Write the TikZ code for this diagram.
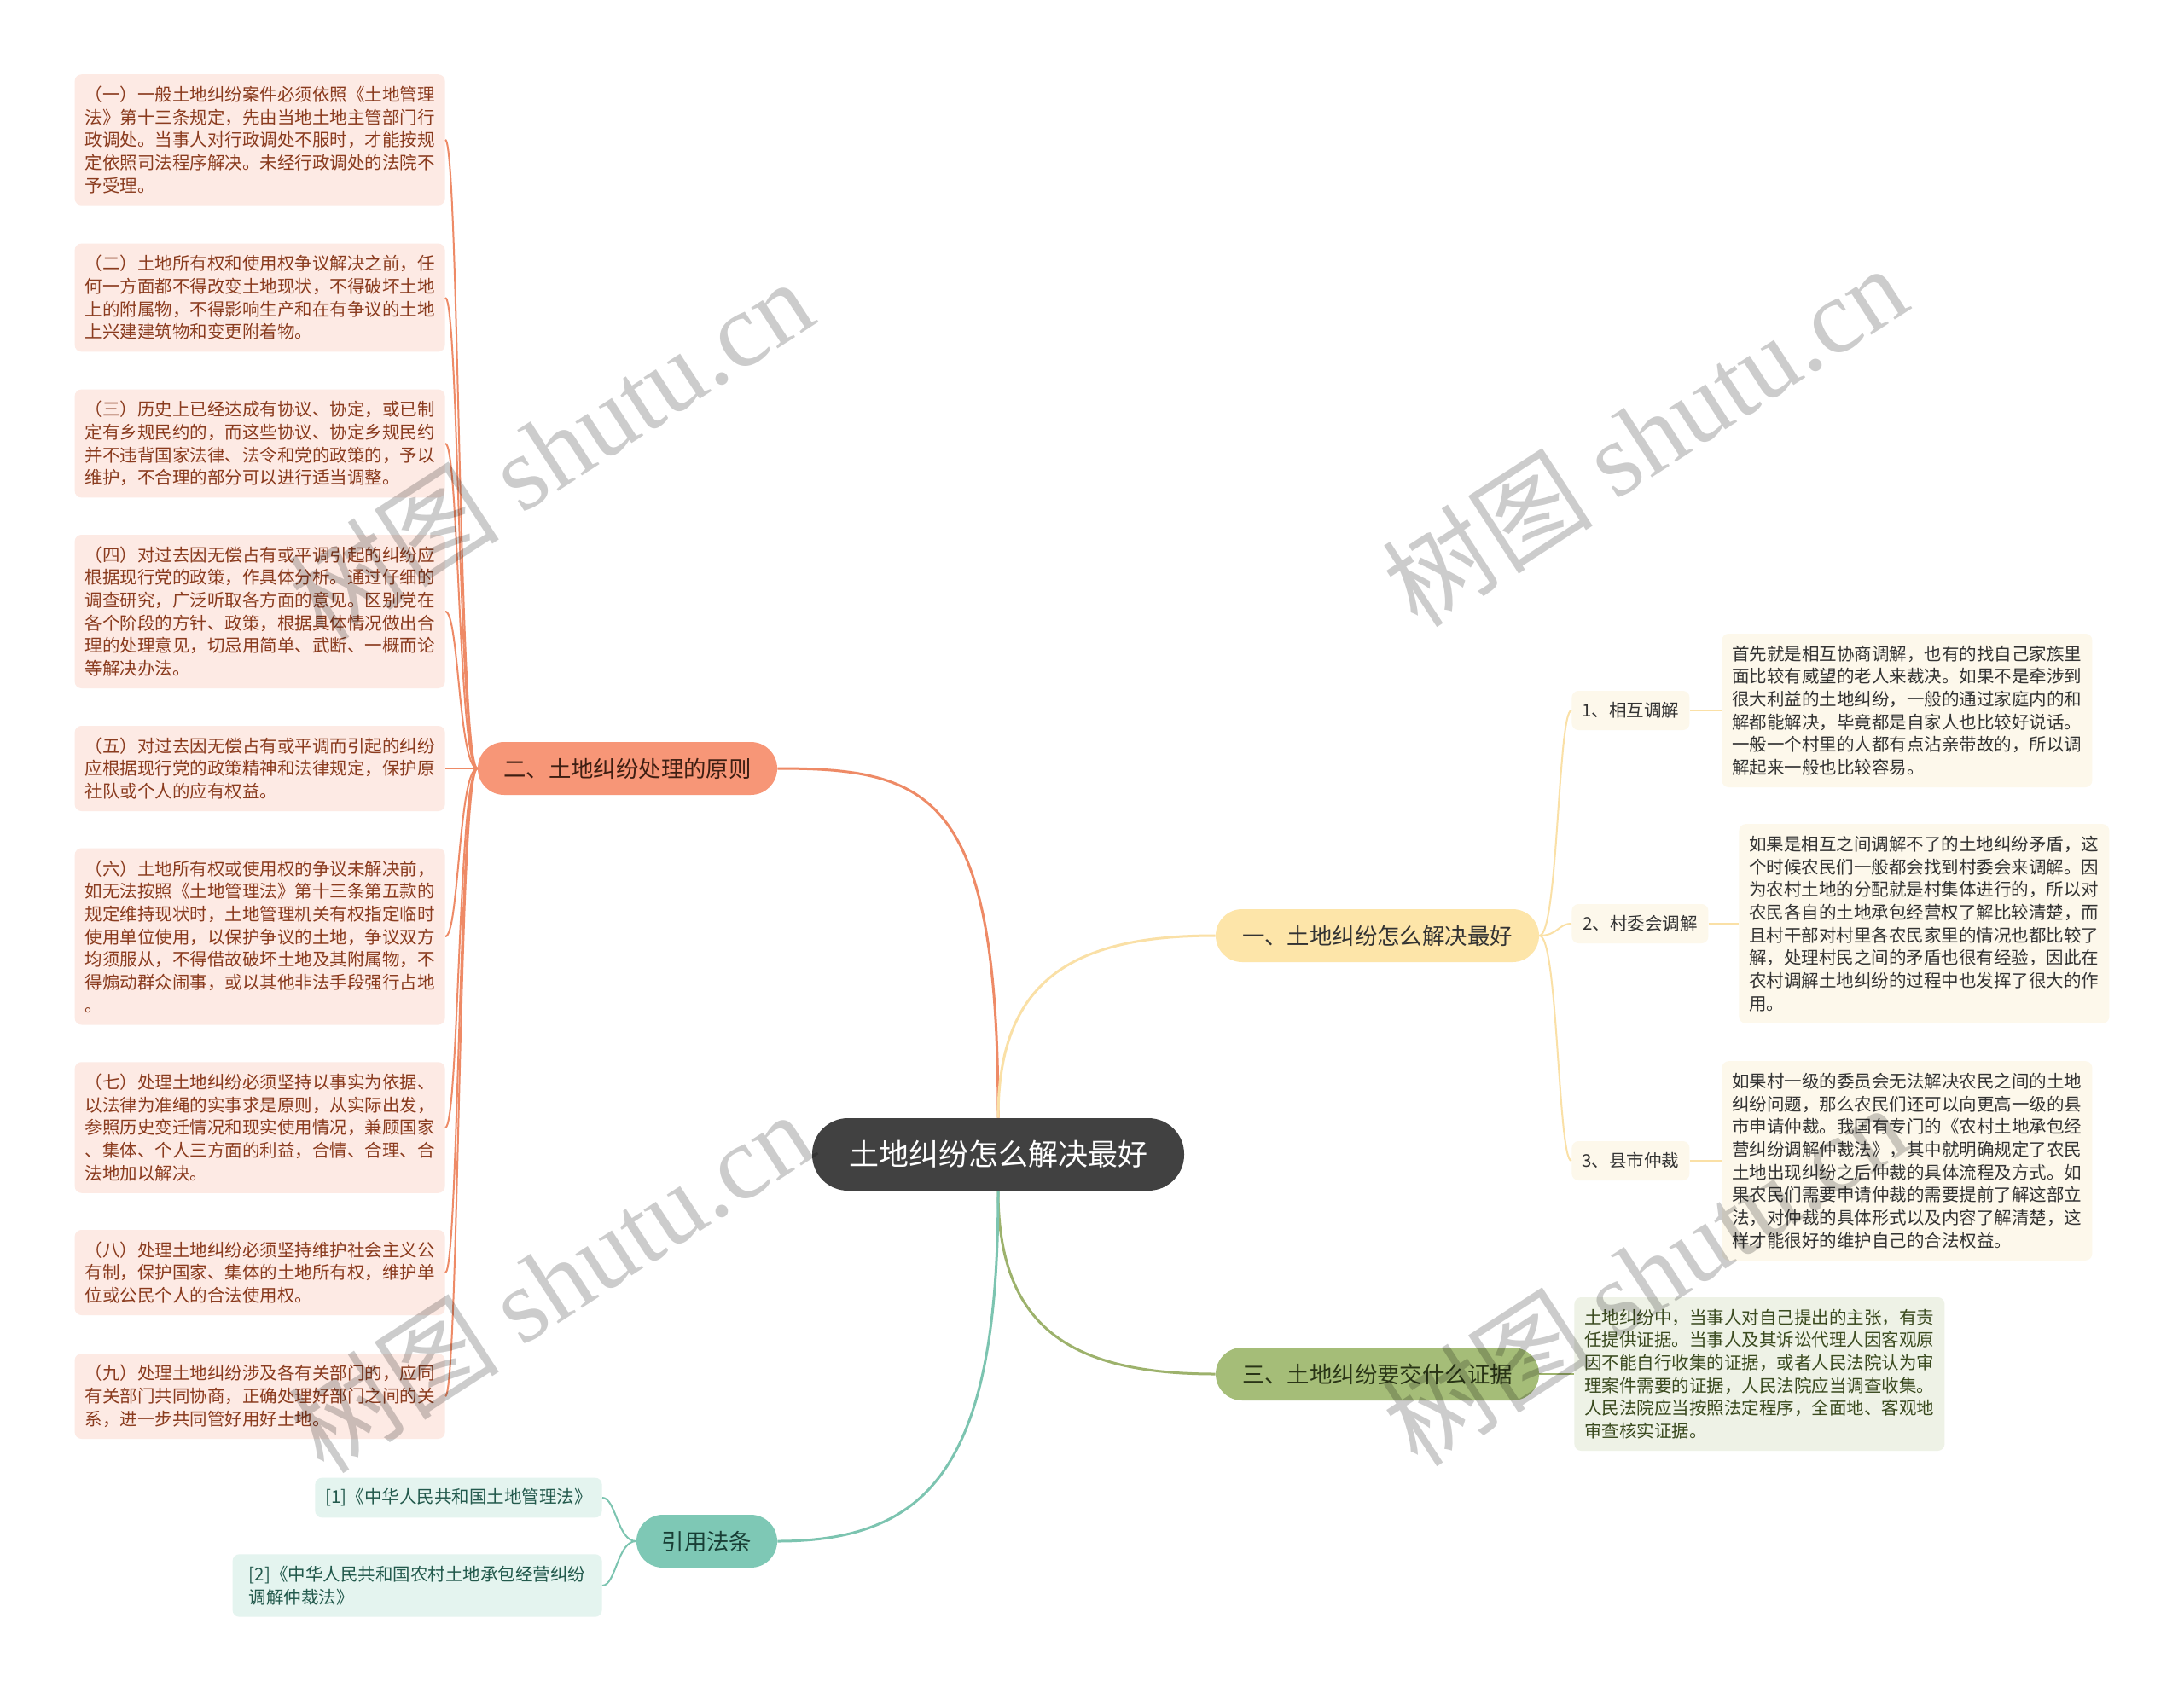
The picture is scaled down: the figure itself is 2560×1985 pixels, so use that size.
\documentclass[tikz,border=0pt]{standalone}
\usepackage{fontspec}
\setmainfont{Noto Sans CJK SC}
\newfontfamily\wmserif{Liberation Serif}
\definecolor{cCen}{HTML}{414141}
\definecolor{fO}{HTML}{F79677}
\definecolor{lO}{HTML}{EE8A66}
\definecolor{lfO}{HTML}{FDEAE4}
\definecolor{tO}{HTML}{8A3B1E}
\definecolor{tOB}{HTML}{3E1E12}
\definecolor{fY}{HTML}{FDE5A9}
\definecolor{lY}{HTML}{FAE0A6}
\definecolor{lfY}{HTML}{FDF8EB}
\definecolor{tY}{HTML}{333333}
\definecolor{fG}{HTML}{A5BD78}
\definecolor{lG}{HTML}{9DB26C}
\definecolor{lfG}{HTML}{EEF2E6}
\definecolor{tG}{HTML}{3A4A1F}
\definecolor{fT}{HTML}{7EC8B5}
\definecolor{lT}{HTML}{7CC4B0}
\definecolor{lfT}{HTML}{E4F4EF}
\definecolor{tT}{HTML}{22594C}
\begin{document}
\begin{tikzpicture}[x=0.5pt,y=-0.5pt,
  central/.style={fill=cCen,text=white,rounded corners=21pt,minimum width=218pt,minimum height=42.5pt,inner sep=0pt,font=\fontsize{17.5}{20}\selectfont},
  branch/.style={rounded corners=15.5pt,minimum height=31pt,inner sep=0pt,font=\fontsize{13.2}{16}\selectfont},
  leaf/.style={rounded corners=4pt,align=left,inner xsep=6pt,inner ysep=0pt,font=\fontsize{10.25}{13.35}\selectfont},
  leafO/.style={leaf,fill=lfO,text=tO,minimum width=217pt,anchor=east},
  leafY/.style={leaf,fill=lfY,text=tY,minimum width=217pt,anchor=west},
  leafG/.style={leaf,fill=lfG,text=tG,minimum width=217pt,anchor=west},
  leafT/.style={leaf,fill=lfT,text=tT,anchor=east},
  subY/.style={leaf,fill=lfY,text=tY,anchor=west,minimum height=23pt},
  h1/.style={minimum height=23.35pt},
  h2/.style={minimum height=36.7pt},
  h3/.style={minimum height=50pt},
  h4/.style={minimum height=63.4pt},
  h5/.style={minimum height=76.75pt},
  h6/.style={minimum height=90pt},
  h7/.style={minimum height=103.5pt},
  h8/.style={minimum height=116.8pt},
  conO/.style={draw=lO,line width=1pt},
  conY/.style={draw=lY,line width=1pt},
  conG/.style={draw=lG,line width=1pt},
  conT/.style={draw=lT,line width=1pt},
  wm/.style={text=black,opacity=0.2,font=\fontsize{62}{70}\selectfont,inner sep=0pt,rotate=33}
]
\useasboundingbox (0,0) rectangle (2560,1985);
\fill[white] (0,0) rectangle (2560,1985);

% central and branches
\node[central] (c) at (1170,1353.5) {土地纠纷怎么解决最好};
\node[branch,fill=fO,text=tOB,minimum width=175.5pt] (b2) at (735.5,901) {二、土地纠纷处理的原则};
\node[branch,fill=fY,text=tY,minimum width=189.5pt] (b1) at (1614.5,1097) {一、土地纠纷怎么解决最好};
\node[branch,fill=fG,text=tG!70!black,minimum width=189.5pt] (b3) at (1614.5,1611) {三、土地纠纷要交什么证据};
\node[branch,fill=fT,text=tT!70!black,minimum width=82.5pt] (b4) at (828.5,1807) {引用法条};

\draw[draw=lO,line width=1.5pt] (c.north) .. controls +(0,-380) and +(180,0) .. (b2.east);
\draw[draw=lY,line width=1.5pt] (c.north) .. controls +(0,-160) and +(-170,0) .. (b1.west);
\draw[draw=lG,line width=1.5pt] (c.south) .. controls +(0,160) and +(-170,0) .. (b3.west);
\draw[draw=lT,line width=1.5pt] (c.south) .. controls +(0,320) and +(180,0) .. (b4.east);

% left leaves
\node[leafO,h5] (L1) at (522,164) {（一）一般土地纠纷案件必须依照《土地管理\\法》第十三条规定，先由当地土地主管部门行\\政调处。当事人对行政调处不服时，才能按规\\定依照司法程序解决。未经行政调处的法院不\\予受理。};
\node[leafO,h4] (L2) at (522,349) {（二）土地所有权和使用权争议解决之前，任\\何一方面都不得改变土地现状，不得破坏土地\\上的附属物，不得影响生产和在有争议的土地\\上兴建建筑物和变更附着物。};
\node[leafO,h4] (L3) at (522,520) {（三）历史上已经达成有协议、协定，或已制\\定有乡规民约的，而这些协议、协定乡规民约\\并不违背国家法律、法令和党的政策的，予以\\维护，不合理的部分可以进行适当调整。};
\node[leafO,h6] (L4) at (522,717) {（四）对过去因无偿占有或平调引起的纠纷应\\根据现行党的政策，作具体分析。通过仔细的\\调查研究，广泛听取各方面的意见。区别党在\\各个阶段的方针、政策，根据具体情况做出合\\理的处理意见，切忌用简单、武断、一概而论\\等解决办法。};
\node[leafO,h3] (L5) at (522,901) {（五）对过去因无偿占有或平调而引起的纠纷\\应根据现行党的政策精神和法律规定，保护原\\社队或个人的应有权益。};
\node[leafO,h7] (L6) at (522,1098) {（六）土地所有权或使用权的争议未解决前，\\如无法按照《土地管理法》第十三条第五款的\\规定维持现状时，土地管理机关有权指定临时\\使用单位使用，以保护争议的土地，争议双方\\均须服从，不得借故破坏土地及其附属物，不\\得煽动群众闹事，或以其他非法手段强行占地\\。};
\node[leafO,h5] (L7) at (522,1322) {（七）处理土地纠纷必须坚持以事实为依据、\\以法律为准绳的实事求是原则，从实际出发，\\参照历史变迁情况和现实使用情况，兼顾国家\\、集体、个人三方面的利益，合情、合理、合\\法地加以解决。};
\node[leafO,h3] (L8) at (522,1492) {（八）处理土地纠纷必须坚持维护社会主义公\\有制，保护国家、集体的土地所有权，维护单\\位或公民个人的合法使用权。};
\node[leafO,h3] (L9) at (522,1637) {（九）处理土地纠纷涉及各有关部门的，应同\\有关部门共同协商，正确处理好部门之间的关\\系，进一步共同管好用好土地。};

\foreach \n in {L1,L2,L3,L4,L5,L6,L7,L8,L9}
  \draw[conO] (b2.west) .. controls +(-22,0) and +(16,0) .. (\n.east);

% right: section one
\node[subY,minimum width=69pt] (s1) at (1842,833) {1、相互调解};
\node[subY,minimum width=80pt] (s2) at (1842,1083) {2、村委会调解};
\node[subY,minimum width=69pt] (s3) at (1842,1361) {3、县市仲裁};
\foreach \n in {s1,s2,s3}
  \draw[conY] (b1.east) .. controls +(22,0) and +(-16,0) .. (\n.west);

\node[leafY,h6] (A) at (2018,833) {首先就是相互协商调解，也有的找自己家族里\\面比较有威望的老人来裁决。如果不是牵涉到\\很大利益的土地纠纷，一般的通过家庭内的和\\解都能解决，毕竟都是自家人也比较好说话。\\一般一个村里的人都有点沾亲带故的，所以调\\解起来一般也比较容易。};
\node[leafY,h8] (B) at (2038,1083) {如果是相互之间调解不了的土地纠纷矛盾，这\\个时候农民们一般都会找到村委会来调解。因\\为农村土地的分配就是村集体进行的，所以对\\农民各自的土地承包经营权了解比较清楚，而\\且村干部对村里各农民家里的情况也都比较了\\解，处理村民之间的矛盾也很有经验，因此在\\农村调解土地纠纷的过程中也发挥了很大的作\\用。};
\node[leafY,h8] (C) at (2018,1361) {如果村一级的委员会无法解决农民之间的土地\\纠纷问题，那么农民们还可以向更高一级的县\\市申请仲裁。我国有专门的《农村土地承包经\\营纠纷调解仲裁法》，其中就明确规定了农民\\土地出现纠纷之后仲裁的具体流程及方式。如\\果农民们需要申请仲裁的需要提前了解这部立\\法，对仲裁的具体形式以及内容了解清楚，这\\样才能很好的维护自己的合法权益。};
\draw[conY] (s1.east) -- (A.west);
\draw[conY] (s2.east) -- (B.west);
\draw[conY] (s3.east) -- (C.west);

% section three
\node[leafG,h6] (D) at (1845,1611) {土地纠纷中，当事人对自己提出的主张，有责\\任提供证据。当事人及其诉讼代理人因客观原\\因不能自行收集的证据，或者人民法院认为审\\理案件需要的证据，人民法院应当调查收集。\\人民法院应当按照法定程序，全面地、客观地\\审查核实证据。};
\draw[conG] (b3.east) -- (D.west);

% references
\node[leafT,h1,minimum width=167pt] (r1) at (706,1756) {[1]《中华人民共和国土地管理法》};
\node[leafT,h2,minimum width=216.5pt] (r2) at (706,1859) {[2]《中华人民共和国农村土地承包经营纠纷\\调解仲裁法》};
\draw[conT] (b4.west) .. controls +(-22,0) and +(16,0) .. (r1.east);
\draw[conT] (b4.west) .. controls +(-22,0) and +(16,0) .. (r2.east);

% watermarks
\node[wm] (w1) at (645,526) {树图 {\wmserif shutu.cn}};
\node[wm] (w2) at (1927,510) {树图 {\wmserif shutu.cn}};
\node[wm] (w3) at (645,1502) {树图 {\wmserif shutu.cn}};
\node[wm] (w4) at (1927,1494) {树图 {\wmserif shutu.cn}};
\end{tikzpicture}
\end{document}
